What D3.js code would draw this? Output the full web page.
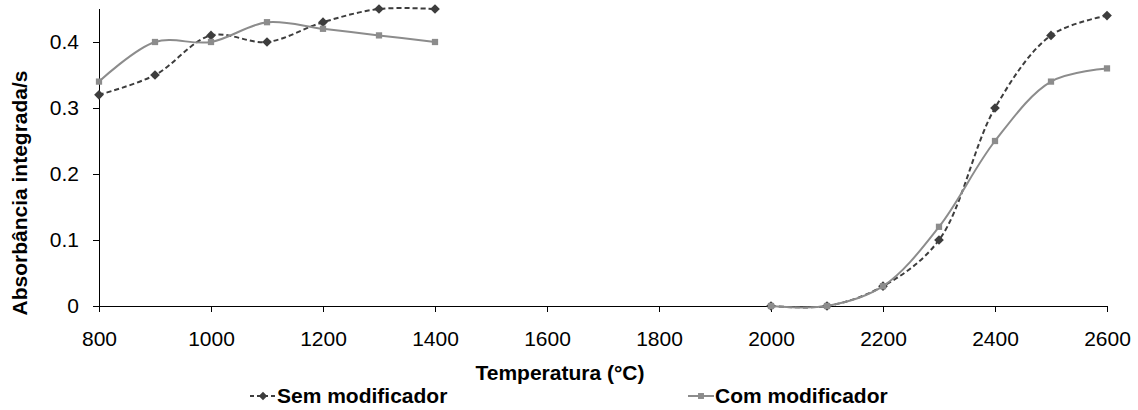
<!DOCTYPE html>
<html><head><meta charset="utf-8">
<script src="https://cdn.jsdelivr.net/npm/d3@7"></script>
<style>body{margin:0;background:#fff}svg{display:block}</style>
</head><body>
<svg id="c" width="1138" height="410"></svg>
<script>
const temps = [800, 900, 1000, 1100, 1200, 1300, 1400, 1500, 1600, 1700, 1800, 1900, 2000, 2100, 2200, 2300, 2400, 2500, 2600];
const semModificador = [0.32, 0.35, 0.41, 0.40, 0.43, 0.45, 0.45, null, null, null, null, null, 0, 0, 0.03, 0.10, 0.30, 0.41, 0.44];
const comModificador = [0.34, 0.40, 0.40, 0.43, 0.42, 0.41, 0.40, null, null, null, null, null, 0, 0, 0.03, 0.12, 0.25, 0.34, 0.36];
const xTicks = [800, 1000, 1200, 1400, 1600, 1800, 2000, 2200, 2400, 2600];
const yTicks = [0, 0.1, 0.2, 0.3, 0.4];
const seriesNames = ["Sem modificador", "Com modificador"];

const svg = d3.select("#c");
const font = "'Liberation Sans', Arial, sans-serif";
const x = d3.scaleLinear().domain([800, 2600]).range([99, 1107]);
const y = d3.scaleLinear().domain([0, 0.45]).range([306, 9]);

const gx = svg.append("g").attr("transform", "translate(0,306)")
  .call(d3.axisBottom(x).tickValues(xTicks).tickSize(6).tickPadding(19).tickFormat(d3.format("d")));
const gy = svg.append("g").attr("transform", "translate(99,0)")
  .call(d3.axisLeft(y).tickValues(yTicks).tickSize(6).tickPadding(14).tickFormat(d => d === 0 ? "0" : d3.format(".1f")(d)));
[gx, gy].forEach(g => {
  g.selectAll("path,line").attr("stroke", "#000").attr("stroke-width", 1);
  g.selectAll("text").attr("font-family", font).attr("font-size", 21).attr("fill", "#000");
});
gx.select(".domain").attr("d", "M99,0.5H1107");
gy.select(".domain").attr("d", "M0.5,9V306");

const series = [
  {name: seriesNames[0], vals: semModificador, color: "#3d3d3d", dash: "5,3", shape: d3.symbolDiamond2},
  {name: seriesNames[1], vals: comModificador, color: "#8c8c8c", dash: null, shape: d3.symbolSquare2}
];

series.forEach(s => {
  const data = temps.map((t, i) => ({t, v: s.vals[i]}));
  const line = d3.line().defined(d => d.v !== null).x(d => x(d.t)).y(d => y(d.v)).curve(d3.curveCatmullRom.alpha(0.5));
  svg.append("path").datum(data).attr("d", line).attr("fill", "none")
    .attr("stroke", s.color).attr("stroke-width", 2).attr("stroke-dasharray", s.dash);
  svg.append("g").selectAll("path").data(data.filter(d => d.v !== null)).join("path")
    .attr("transform", d => `translate(${x(d.t)},${y(d.v)})`)
    .attr("d", d3.symbol().type(s.shape).size(s.shape === d3.symbolSquare2 ? 50 : 60))
    .attr("fill", s.color).attr("stroke", "none");
});

svg.append("text").attr("x", 560).attr("y", 380).attr("text-anchor", "middle")
  .attr("font-family", font).attr("font-size", 21).attr("font-weight", "bold").text("Temperatura (°C)");
svg.append("text").attr("transform", "translate(27,193) rotate(-90)").attr("text-anchor", "middle")
  .attr("font-family", font).attr("font-size", 21).attr("font-weight", "bold").text("Absorbância integrada/s");

const legendX = [250, 688];
series.forEach((s, i) => {
  const g = svg.append("g").attr("transform", `translate(${legendX[i]},396)`);
  g.append("line").attr("x1", 0).attr("x2", 26).attr("y1", 0).attr("y2", 0)
    .attr("stroke", s.color).attr("stroke-width", 2).attr("stroke-dasharray", s.dash ? "4,3" : null);
  g.append("path").attr("transform", "translate(13,0)")
    .attr("d", d3.symbol().type(s.shape).size(45)).attr("fill", s.color);
  g.append("text").attr("x", 27).attr("y", 7).attr("font-family", font).attr("font-size", 21)
    .attr("font-weight", "bold").attr("fill", "#000").text(s.name);
});
</script>
</body></html>
